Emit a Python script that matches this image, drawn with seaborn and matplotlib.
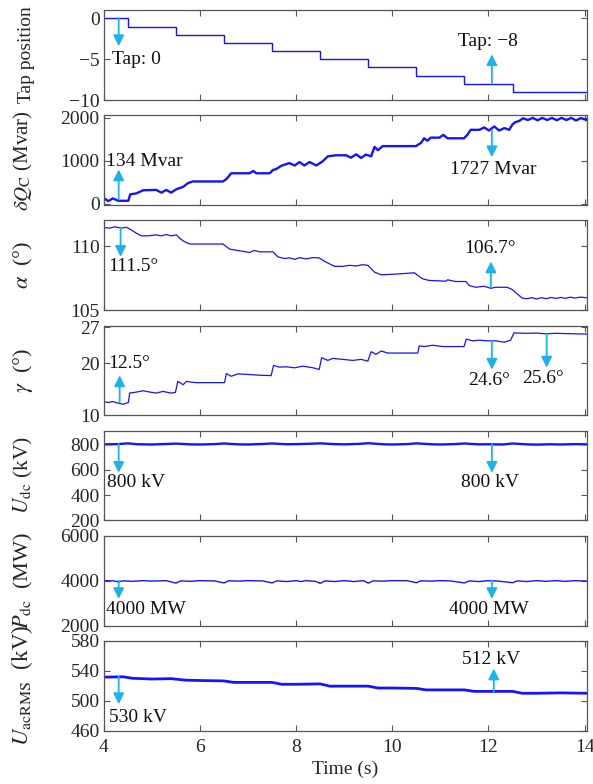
import matplotlib
matplotlib.use('Agg')
import matplotlib.pyplot as plt
import seaborn as sns

# Data (time in s)
tap_time = [4.0, 4.5, 5.5, 6.5, 7.5, 8.5, 9.5, 10.5, 11.5, 12.5, 14.05]
tap_pos = [0, -1, -2, -3, -4, -5, -6, -7, -8, -9, -9]

dqc_time = [4.00, 4.09, 4.19, 4.30, 4.51, 4.55, 4.68, 4.82, 5.09, 5.20, 5.30, 5.40, 5.51,
            5.65, 5.75, 5.85, 6.48, 6.55, 6.65, 7.03, 7.11, 7.17, 7.45, 7.52, 7.58, 7.69,
            7.86, 7.97, 8.07, 8.17, 8.28, 8.42, 8.55, 8.66, 8.83, 9.04, 9.14, 9.25, 9.35,
            9.45, 9.56, 9.63, 9.70, 9.80, 10.49, 10.60, 10.66, 10.73, 10.80, 10.98, 11.06,
            11.15, 11.49, 11.56, 11.63, 11.81, 11.91, 12.01, 12.12, 12.22, 12.33, 12.43,
            12.50, 12.56, 12.64, 12.72, 12.82, 12.92, 13.02, 13.12, 13.22, 13.32, 13.42,
            13.52, 13.62, 13.72, 13.82, 13.92, 14.05]
dqc_val = [142, 63, 126, 71, 71, 221, 245, 316, 324, 261, 324, 261, 340,
           395, 482, 521, 521, 577, 711, 711, 766, 711, 711, 790, 806, 885,
           948, 893, 972, 893, 972, 893, 988, 1106, 1130, 1130, 1074, 1153, 1067,
           1146, 1106, 1327, 1248, 1343, 1343, 1422, 1525, 1469, 1540, 1540, 1604,
           1525, 1525, 1604, 1722, 1722, 1778, 1706, 1801, 1706, 1762, 1722,
           1850, 1900, 1930, 1990, 1950, 2000, 1945, 2000, 1950, 2000, 1945,
           2000, 1950, 2000, 1940, 1995, 1950]

alpha_time = [4.00, 4.12, 4.23, 4.37, 4.47, 4.57, 4.68, 4.78, 4.92, 5.09, 5.20, 5.30, 5.40,
              5.51, 5.58, 5.68, 5.79, 6.48, 6.55, 6.62, 6.75, 7.03, 7.13, 7.24, 7.52, 7.62,
              7.76, 7.86, 7.97, 8.07, 8.21, 8.34, 8.48, 8.55, 8.66, 8.80, 8.97, 9.11, 9.25,
              9.38, 9.49, 9.56, 9.63, 9.77, 10.08, 10.28, 10.46, 10.53, 10.63, 10.77, 10.98,
              11.11, 11.15, 11.32, 11.53, 11.60, 11.74, 11.91, 12.05, 12.15, 12.29, 12.39,
              12.50, 12.60, 12.70, 12.80, 12.90, 13.00, 13.10, 13.20, 13.30, 13.40, 13.50,
              13.60, 13.70, 13.80, 13.90, 14.05]
alpha_val = [111.45, 111.40, 111.50, 111.40, 111.47, 111.26, 111.00, 110.80, 110.80, 110.87,
             110.80, 110.90, 110.80, 110.87, 110.60, 110.34, 110.16, 110.16, 109.95, 109.76,
             109.68, 109.50, 109.66, 109.55, 109.55, 109.16, 109.03, 109.08, 108.97, 109.10,
             109.00, 109.10, 109.08, 108.90, 108.68, 108.42, 108.42, 108.50, 108.45, 108.55,
             108.50, 108.24, 107.97, 107.76, 107.82, 107.87, 107.92, 107.71, 107.45, 107.32,
             107.29, 107.26, 107.37, 107.24, 107.24, 106.92, 106.79, 106.87, 106.71, 106.79,
             106.79, 106.79, 106.60, 106.26, 105.95, 105.90, 105.98, 105.88, 105.98, 105.90,
             106.00, 105.92, 106.00, 105.93, 106.02, 105.95, 106.02, 105.98]

gamma_time = [4.00, 4.09, 4.19, 4.30, 4.40, 4.51, 4.54, 4.68, 4.82, 4.96, 5.09, 5.23, 5.40,
              5.49, 5.54, 5.65, 5.72, 5.79, 5.92, 6.20, 6.51, 6.55, 6.65, 6.79, 7.03, 7.24,
              7.48, 7.53, 7.65, 7.79, 7.97, 8.14, 8.35, 8.48, 8.53, 8.66, 8.76, 8.97, 9.18,
              9.35, 9.49, 9.56, 9.66, 9.77, 9.90, 10.21, 10.53, 10.56, 10.66, 10.84, 11.05,
              11.18, 11.49, 11.54, 11.67, 11.81, 11.98, 12.15, 12.33, 12.46, 12.53, 12.60,
              12.80, 13.00, 13.20, 13.40, 13.60, 13.80, 14.05]
gamma_val = [12.66, 12.47, 12.66, 12.34, 12.14, 12.47, 14.29, 14.48, 14.74, 14.48, 14.29,
             14.61, 14.29, 14.42, 16.56, 15.90, 16.56, 16.43, 16.30, 16.30, 16.30, 18.05,
             17.53, 17.99, 17.86, 17.73, 17.66, 19.61, 19.29, 19.35, 19.16, 19.48, 19.16,
             18.83, 21.10, 20.58, 20.97, 20.78, 20.58, 20.78, 20.45, 22.27, 21.75, 22.40,
             22.00, 22.00, 22.00, 23.38, 23.25, 23.50, 23.25, 23.25, 23.25, 24.68, 24.35,
             24.48, 24.35, 24.35, 24.09, 24.48, 25.90, 25.85, 25.80, 25.85, 25.70, 25.80,
             25.75, 25.70, 25.65]

udc_time = [4.0, 4.3, 4.5, 4.7, 5.0, 5.3, 5.5, 5.8, 6.0, 6.3, 6.5, 6.8, 7.0, 7.3, 7.5, 7.8,
            8.0, 8.3, 8.5, 8.8, 9.0, 9.3, 9.5, 9.8, 10.0, 10.3, 10.5, 10.8, 11.0, 11.3, 11.5,
            11.8, 12.0, 12.3, 12.5, 12.8, 13.0, 13.3, 13.5, 13.8, 14.05]
udc_val = [798, 800, 806, 799, 797, 801, 804, 798, 797, 800, 805, 798, 797, 801, 805, 799,
           800, 803, 806, 800, 798, 802, 807, 799, 797, 800, 806, 799, 797, 800, 805,
           798, 799, 797, 805, 798, 796, 799, 797, 800, 798]

pdc_time = [4.0, 4.2, 4.3, 4.4, 4.6, 4.8, 5.0, 5.3, 5.5, 5.6, 5.8, 6.0, 6.3, 6.5, 6.6, 6.8,
            7.0, 7.3, 7.5, 7.6, 7.8, 8.0, 8.1, 8.2, 8.4, 8.5, 8.6, 8.8, 9.0, 9.2, 9.4, 9.5,
            9.6, 9.8, 10.0, 10.3, 10.5, 10.6, 10.8, 11.0, 11.2, 11.5, 11.6, 11.8, 12.0, 12.2,
            12.5, 12.6, 12.8, 13.0, 13.2, 13.4, 13.6, 13.8, 14.05]
pdc_val = [4000, 3990, 3950, 3990, 3970, 4000, 3980, 4000, 3890, 3990, 3970, 4000, 3990,
           3900, 3995, 3980, 4000, 3990, 3900, 3990, 3960, 4000, 3960, 4000, 3970, 3880,
           3990, 3960, 4000, 3960, 4000, 3890, 3990, 3980, 4000, 4000, 3910, 3995, 3980,
           4000, 3990, 3900, 3990, 3960, 4000, 3980, 3910, 3990, 3960, 4000, 3970, 4000,
           3970, 4000, 3980]

uac_time = [4.0, 4.4, 4.6, 5.0, 5.4, 5.7, 6.0, 6.5, 6.7, 7.0, 7.5, 7.7, 8.0, 8.5, 8.7,
            9.0, 9.5, 9.7, 10.0, 10.5, 10.7, 11.0, 11.5, 11.7, 12.0, 12.5, 12.7, 13.0,
            13.5, 14.05]
uac_val = [531.5, 532, 530, 529, 529.5, 527.5, 527, 526.5, 524.5, 524.5, 524.5, 522, 522,
           522.5, 519.5, 519.5, 519.5, 517, 517, 516.5, 514.5, 514.5, 514.5, 512.5, 512.5,
           512.5, 510, 510, 510.5, 510]

# annotations: (arrow x, arrow start y, arrow tip y, text, text x, text y)
notes = [
    [(4.31, 0, -3.4, 'Tap: 0', 4.17, -5.0),
     (12.07, -8, -4.4, 'Tap: \u22128', 11.36, -2.85)],
    [(4.31, 100, 800, '134 Mvar', 4.05, 990),
     (12.07, 1720, 1085, '1727 Mvar', 11.2, 800)],
    [(4.35, 111.45, 109.16, '111.5\u00b0', 4.1, 108.37),
     (12.05, 106.79, 108.8, '106.7\u00b0', 11.5, 109.8)],
    [(4.33, 12.5, 17.7, '12.5\u00b0', 4.1, 20.0),
     (12.07, 24.35, 18.8, '24.6\u00b0', 11.58, 16.7),
     (13.21, 25.7, 19.2, '25.6\u00b0', 12.7, 17.1)],
    [(4.31, 800, 575, '800 kV', 4.07, 496),
     (12.07, 800, 575, '800 kV', 11.42, 496)],
    [(4.31, 4000, 3185, '4000 MW', 4.05, 2720),
     (12.07, 4000, 3185, '4000 MW', 11.18, 2720)],
    [(4.31, 532, 495.5, '530 kV', 4.1, 477),
     (12.11, 512, 543, '512 kV', 11.44, 554.5)],
]

sns.set_style('ticks')
plt.rcParams['font.family'] = ['Liberation Serif', 'DejaVu Serif']
plt.rcParams['mathtext.fontset'] = 'stix'
plt.rcParams['font.size'] = 14

line_color = '#1414FF'
arrow_color = '#1DB2EA'
frame_color = '#555555'

fig, axes = plt.subplots(7, 1, figsize=(5.93, 7.84), dpi=100, sharex=True)
fig.subplots_adjust(left=0.175, right=0.99, top=0.987, bottom=0.068, hspace=0.17)

series = [
    (tap_time, tap_pos, 1.0),
    (dqc_time, dqc_val, 1.7),
    (alpha_time, alpha_val, 0.9),
    (gamma_time, gamma_val, 0.9),
    (udc_time, udc_val, 1.7),
    (pdc_time, pdc_val, 1.0),
    (uac_time, uac_val, 2.0),
]
ylabels = ['Tap position', r'$\delta Q_{\mathrm{C}}$ (Mvar)', r'$\alpha$  (°)', r'$\gamma$  (°)',
           r'$U_{\mathrm{dc}}$ (kV)', r'$P_{\mathrm{dc}}$  (MW)', r'$U_{\mathrm{acRMS}}$  (kV)']
label_sizes = [14, 15, 16, 16, 15.5, 16, 16.5]
ylims = [(-10, 1.0), (-30, 2060), (105, 112.0), (10, 27.3), (200, 906), (2000, 6000), (460, 580)]
yticks = [[-10, -5, 0], [0, 1000, 2000], [105, 110], [10, 20, 27], [200, 400, 600, 800],
          [2000, 4000, 6000], [460, 500, 540, 580]]

for i, ax in enumerate(axes):
    t, v, lw = series[i]
    if i == 0:
        sns.lineplot(x=t, y=v, ax=ax, color=line_color, linewidth=lw,
                     estimator=None, drawstyle='steps-post')
    else:
        sns.lineplot(x=t, y=v, ax=ax, color=line_color, linewidth=lw, estimator=None)

    for (ax_x, y0, y1, label, tx, ty) in notes[i]:
        ax.annotate('', xy=(ax_x, y1), xytext=(ax_x, y0),
                    arrowprops=dict(arrowstyle='-|>', color=arrow_color, lw=1.3,
                                    mutation_scale=16, shrinkA=0, shrinkB=0))
        ax.text(tx, ty, label, ha='left', va='center', fontsize=14, color='#111111')

    ax.set_ylim(*ylims[i])
    ax.set_yticks(yticks[i])
    if i == 0:
        ax.set_yticklabels(['\u221210', '\u22125', '0'])
    ax.set_ylabel(ylabels[i], fontsize=label_sizes[i])
    ax.yaxis.set_label_coords(-0.143, 0.5)
    ax.tick_params(direction='in', top=True, right=True, length=4, width=0.8,
                   color=frame_color, labelsize=14, pad=3)
    ax.tick_params(axis='x', pad=6)
    for s in ax.spines.values():
        s.set_visible(True)
        s.set_color(frame_color)
        s.set_linewidth(0.9)

axes[-1].set_xlim(4, 14.05)
axes[-1].set_xticks([4, 6, 8, 10, 12, 14])
axes[-1].set_xlabel('Time (s)', fontsize=14, labelpad=3)

fig.savefig('out.png', dpi=100)
